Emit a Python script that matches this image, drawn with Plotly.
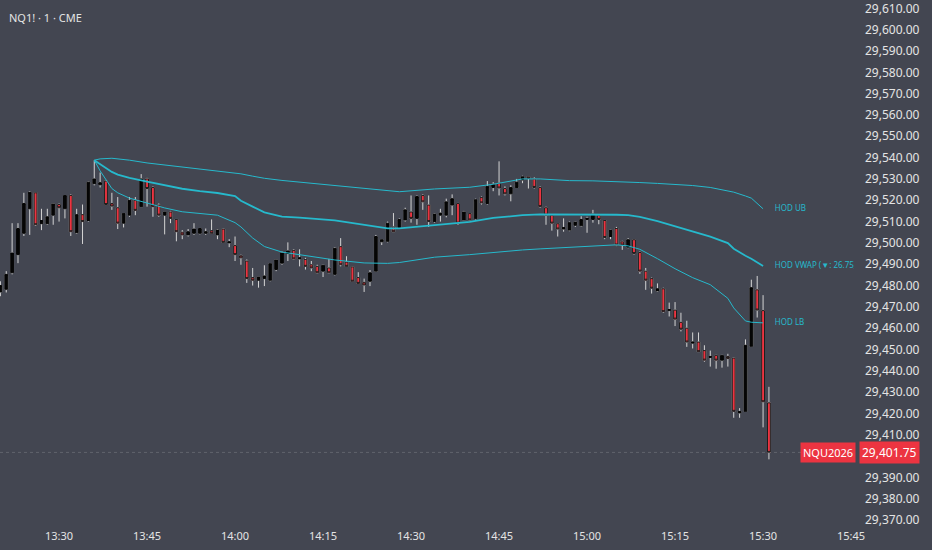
import numpy as np
import pandas as pd
import plotly.graph_objects as go

# 1-minute NQ candles, 13:20 -> 15:31
start_time = "2025-07-18 13:20"
opens = [29477.0, 29478.25, 29486.0, 29494.5, 29504.5, 29516.0, 29523.5, 29509.0, 29509.0, 29513.0,
         29518.0, 29516.0, 29522.25, 29504.75, 29513.25, 29510.5, 29527.75, 29527.25, 29529.0, 29518.5,
         29516.5, 29509.25, 29513.0, 29520.0, 29517.0, 29530.0, 29526.0, 29517.75, 29513.0, 29514.5,
         29511.0, 29505.0, 29503.75, 29504.5, 29504.5, 29504.5, 29505.75, 29503.75, 29506.5, 29500.0,
         29498.75, 29494.0, 29491.5, 29483.75, 29482.5, 29483.25, 29482.5, 29487.5, 29490.5, 29495.0,
         29496.5, 29492.5, 29492.25, 29489.75, 29489.0, 29486.75, 29488.25, 29485.25, 29498.25, 29491.0,
         29488.75, 29483.75, 29481.5, 29482.0, 29486.75, 29500.5, 29500.75, 29507.5, 29507.25, 29510.75,
         29514.5, 29511.5, 29522.25, 29517.75, 29510.0, 29513.0, 29513.0, 29517.75, 29518.5, 29510.75,
         29513.75, 29511.5, 29521.25, 29518.5, 29526.0, 29528.0, 29525.5, 29523.0, 29526.0, 29529.5,
         29531.0, 29530.0, 29526.0, 29516.5, 29513.0, 29509.0, 29506.5, 29506.0, 29508.25, 29508.0,
         29511.0, 29511.0, 29513.0, 29510.5, 29503.0, 29506.75, 29500.5, 29498.0, 29501.5, 29495.5,
         29486.75, 29483.25, 29477.5, 29478.5, 29468.25, 29468.5, 29462.75, 29460.0, 29453.0, 29453.5,
         29449.5, 29446.25, 29447.25, 29445.0, 29446.75, 29446.0, 29420.25, 29421.0, 29451.5, 29478.0,
         29468.25, 29425.0]
highs = [29482.0, 29486.75, 29509.25, 29509.25, 29523.5, 29524.25, 29523.75, 29516.0, 29516.0, 29518.5,
         29518.5, 29522.25, 29522.75, 29516.0, 29518.0, 29528.75, 29538.75, 29533.0, 29529.25, 29523.5,
         29521.5, 29514.0, 29521.5, 29521.5, 29532.25, 29530.5, 29526.5, 29518.5, 29514.5, 29515.0,
         29511.0, 29506.0, 29506.5, 29509.25, 29507.0, 29506.75, 29511.0, 29506.5, 29506.75, 29501.75,
         29503.0, 29494.5, 29492.25, 29488.25, 29484.0, 29489.5, 29490.5, 29492.25, 29496.0, 29500.25,
         29497.0, 29497.0, 29493.0, 29491.5, 29489.75, 29489.75, 29492.5, 29498.0, 29502.25, 29493.75,
         29489.0, 29486.25, 29483.25, 29487.25, 29503.75, 29501.75, 29510.0, 29514.0, 29511.5, 29516.5,
         29522.25, 29522.25, 29522.75, 29522.25, 29513.75, 29516.0, 29520.75, 29522.75, 29518.75, 29515.0,
         29514.0, 29520.75, 29521.75, 29529.0, 29528.5, 29538.25, 29526.5, 29527.0, 29530.0, 29531.5,
         29531.25, 29530.75, 29526.5, 29517.0, 29513.5, 29509.25, 29511.5, 29510.0, 29510.0, 29512.5,
         29512.25, 29515.5, 29513.5, 29510.75, 29506.25, 29507.5, 29501.0, 29502.25, 29501.75, 29496.0,
         29488.25, 29483.75, 29481.0, 29479.0, 29472.0, 29472.25, 29467.25, 29463.5, 29458.0, 29458.0,
         29452.0, 29449.5, 29447.5, 29447.5, 29448.0, 29446.25, 29422.5, 29454.75, 29482.75, 29484.5,
         29475.5, 29432.5]
lows = [29475.0, 29476.75, 29485.25, 29490.5, 29503.25, 29503.75, 29508.0, 29506.0, 29508.5, 29508.5,
        29510.0, 29511.5, 29503.25, 29504.25, 29499.5, 29510.0, 29527.0, 29526.0, 29517.75, 29515.5,
        29506.5, 29507.25, 29512.25, 29513.0, 29517.0, 29517.0, 29512.25, 29512.25, 29504.0, 29509.25,
        29500.75, 29501.75, 29503.0, 29503.75, 29504.0, 29503.75, 29504.5, 29501.75, 29500.0, 29498.0,
        29491.5, 29489.75, 29481.25, 29480.0, 29479.0, 29479.75, 29482.0, 29486.75, 29489.75, 29491.5,
        29492.25, 29489.0, 29487.5, 29486.75, 29485.75, 29484.0, 29485.75, 29484.75, 29489.0, 29489.0,
        29481.75, 29481.0, 29477.0, 29479.75, 29486.5, 29499.0, 29500.25, 29505.25, 29507.0, 29510.0,
        29509.5, 29508.5, 29515.5, 29507.5, 29509.5, 29510.0, 29512.0, 29513.0, 29508.5, 29510.5,
        29510.5, 29511.0, 29518.0, 29518.0, 29524.25, 29522.25, 29522.25, 29519.5, 29525.75, 29528.0,
        29525.5, 29525.5, 29516.5, 29508.5, 29505.75, 29503.0, 29505.25, 29505.5, 29507.5, 29507.5,
        29504.75, 29509.5, 29508.75, 29501.75, 29501.75, 29498.5, 29496.75, 29497.5, 29494.5, 29485.5,
        29478.0, 29476.25, 29477.0, 29467.25, 29465.5, 29461.0, 29458.5, 29451.25, 29450.5, 29449.0,
        29444.25, 29442.0, 29441.0, 29441.5, 29442.0, 29418.0, 29418.0, 29420.75, 29451.25, 29465.0,
        29413.5, 29398.5]
closes = [29480.0, 29485.25, 29495.25, 29506.75, 29518.5, 29523.75, 29508.5, 29510.5, 29512.25, 29518.25,
          29516.5, 29522.25, 29505.25, 29513.25, 29510.0, 29528.5, 29530.0, 29528.25, 29518.0, 29517.25,
          29509.25, 29513.75, 29520.0, 29515.25, 29530.0, 29525.5, 29517.0, 29513.0, 29514.5, 29511.5,
          29505.25, 29503.75, 29505.25, 29506.5, 29506.75, 29505.25, 29504.5, 29506.0, 29500.25, 29500.5,
          29494.5, 29493.0, 29483.25, 29482.5, 29484.0, 29484.5, 29490.25, 29492.0, 29495.25, 29496.25,
          29492.5, 29493.0, 29489.0, 29488.25, 29486.0, 29489.5, 29486.0, 29497.5, 29489.75, 29489.0,
          29482.0, 29481.0, 29480.25, 29486.0, 29503.0, 29501.5, 29509.25, 29505.25, 29511.0, 29515.5,
          29511.5, 29521.75, 29519.25, 29510.0, 29513.5, 29514.0, 29519.25, 29520.75, 29509.25, 29514.5,
          29510.75, 29520.25, 29518.75, 29526.5, 29527.5, 29525.75, 29523.0, 29526.0, 29528.5, 29531.0,
          29530.25, 29526.0, 29517.0, 29513.0, 29509.25, 29506.5, 29507.25, 29509.5, 29509.75, 29511.0,
          29511.5, 29513.5, 29511.0, 29502.5, 29506.0, 29499.0, 29499.0, 29501.5, 29495.0, 29486.75,
          29482.5, 29478.75, 29478.5, 29467.75, 29468.75, 29464.25, 29459.5, 29453.5, 29453.5, 29449.0,
          29445.0, 29446.75, 29445.0, 29447.25, 29445.75, 29421.0, 29421.0, 29452.0, 29479.0, 29468.5,
          29425.5, 29401.75]

# anchored VWAP from the high of day, read at these minutes after 13:30
band_minutes = [6, 7, 9, 10, 12, 15, 18, 21, 24, 27, 30, 31, 33, 35, 38, 41, 47, 52, 56, 58,
                64, 70, 74, 76, 79, 82, 87, 91, 95, 97, 99, 102, 105, 108, 111, 114, 115, 117, 118, 120]
hod_ub = [29538.8, 29539.4, 29539.7, 29539.4, 29538.8, 29537.5, 29536.6, 29535.7, 29534.6, 29533.8,
          29533.0, 29532.4, 29531.3, 29530.3, 29529.3, 29528.5, 29526.8, 29525.5, 29524.5, 29524.0,
          29525.3, 29526.1, 29527.5, 29528.6, 29530.0, 29530.0, 29529.2, 29529.1, 29528.8, 29528.5,
          29528.3, 29527.9, 29527.4, 29526.9, 29526.0, 29524.6, 29523.8, 29522.0, 29521.0, 29516.0]
hod_vwap = [29538.8, 29536.9, 29533.3, 29532.0, 29530.5, 29528.7, 29527.1, 29525.4, 29524.3, 29523.4,
            29522.0, 29519.8, 29517.0, 29514.3, 29512.3, 29511.9, 29510.6, 29508.5, 29506.8, 29506.8,
            29508.2, 29509.9, 29511.7, 29512.3, 29513.0, 29513.4, 29513.4, 29513.4, 29513.2, 29513.0,
            29512.2, 29510.2, 29507.8, 29505.4, 29502.9, 29499.9, 29497.3, 29494.0, 29492.6, 29489.2]
hod_lb = [29538.8, 29533.8, 29525.5, 29523.5, 29521.0, 29518.8, 29516.4, 29514.6, 29513.8, 29513.0,
          29509.5, 29507.5, 29502.3, 29498.3, 29495.7, 29494.5, 29492.0, 29490.6, 29490.4, 29490.8,
          29493.3, 29494.5, 29495.5, 29496.1, 29496.7, 29497.2, 29498.0, 29498.6, 29499.1, 29498.6,
          29497.0, 29492.6, 29487.9, 29483.7, 29480.4, 29474.0, 29469.5, 29463.4, 29462.8, 29462.5]
band_labels = ["HOD UB", "HOD VWAP (▼: 26.75)", "HOD LB"]

x_ticks = ["13:30", "13:45", "14:00", "14:15", "14:30", "14:45", "15:00", "15:15", "15:30", "15:45"]
# 29,400 sits under the last-price tag, so it is not listed
y_ticks = [29370, 29380, 29390, 29410, 29420, 29430, 29440, 29450, 29460, 29470, 29480, 29490,
           29500, 29510, 29520, 29530, 29540, 29550, 29560, 29570, 29580, 29590, 29600, 29610]
last_price = 29401.75
symbol = "NQU2026"

BG = "#434651"
TXT = "#e4e4e4"
CYAN = "#26b9cc"
RED = "#ec3441"
FONT = "Noto Sans"

times = pd.date_range(start_time, periods=len(opens), freq="min")
day = times[0].strftime("%Y-%m-%d")
band_times = pd.Timestamp(day + " 13:30") + pd.to_timedelta(band_minutes, unit="min")
label_time = pd.Timestamp(day + " 13:30") + pd.Timedelta(minutes=122)

o = np.array(opens)
c = np.array(closes)

fig = go.Figure()

# VWAP bands
for vals, w in [(hod_ub, 1), (hod_vwap, 1.8), (hod_lb, 1)]:
    fig.add_trace(go.Scatter(x=band_times, y=vals, mode="lines",
                             line=dict(color=CYAN, width=w), hoverinfo="skip"))

# wicks (full range, light grey)
fig.add_trace(go.Candlestick(
    x=times, open=opens, high=highs, low=lows, close=closes,
    increasing=dict(line=dict(color="#d4d4d4", width=1), fillcolor="#d4d4d4"),
    decreasing=dict(line=dict(color="#d4d4d4", width=1), fillcolor="#d4d4d4"),
    whiskerwidth=0, hoverinfo="skip"))

# bodies on top
fig.add_trace(go.Candlestick(
    x=times, open=opens, high=np.maximum(o, c), low=np.minimum(o, c), close=closes,
    increasing=dict(line=dict(color="#050505", width=1), fillcolor="#050505"),
    decreasing=dict(line=dict(color="#1e1e1e", width=1), fillcolor=RED),
    whiskerwidth=0))

# band labels, clipped at the pane edge like the original
fig.add_trace(go.Scatter(
    x=[label_time] * 3, y=[hod_ub[-1], hod_vwap[-1], hod_lb[-1]],
    mode="text", text=band_labels, textposition="middle right",
    textfont=dict(color=CYAN, size=8, family=FONT), cliponaxis=True, hoverinfo="skip"))

# faint last price line
fig.add_hline(y=last_price, line=dict(color="rgba(200,200,200,0.22)", width=1, dash="dot"))

fig.add_annotation(x=1, xref="paper", xanchor="right", xshift=2, y=last_price, yref="y",
                   text=symbol, showarrow=False, bgcolor=RED, borderpad=2,
                   font=dict(color="white", size=11, family=FONT))
fig.add_annotation(x=1, xref="paper", xanchor="left", xshift=5, y=last_price, yref="y",
                   text=f"{last_price:,.2f}", showarrow=False, bgcolor=RED, borderpad=2,
                   font=dict(color="white", size=12, family=FONT))
fig.add_annotation(x=0, xref="paper", xanchor="left", xshift=7, y=1, yref="paper",
                   yanchor="top", yshift=-2, text="NQ1! · 1 · CME", showarrow=False,
                   font=dict(color=TXT, size=11, family=FONT))

fig.update_layout(
    width=932, height=550,
    paper_bgcolor=BG, plot_bgcolor=BG,
    margin=dict(l=0, r=78, t=0, b=22),
    showlegend=False,
    font=dict(family=FONT, color=TXT),
    xaxis=dict(
        type="date", rangeslider=dict(visible=False),
        range=[pd.Timestamp(day + " 13:19:56"), pd.Timestamp(day + " 15:45:30")],
        tickvals=[pd.Timestamp(day + " " + t) for t in x_ticks], ticktext=x_ticks,
        showgrid=False, zeroline=False, showline=False, ticks="",
        tickfont=dict(size=11, color=TXT)),
    yaxis=dict(
        side="right", range=[29366.3, 29611.1],
        tickvals=y_ticks, ticktext=[f"{v:,.2f}" for v in y_ticks],
        showgrid=False, zeroline=False, showline=False, ticks="",
        ticklabelstandoff=10, ticklabeloverflow="allow",
        tickfont=dict(size=12, color=TXT)),
)

# drop the page's default body margin so the chart sits at the window's corner
fig.write_html("out.html", config={"displayModeBar": False},
               post_script="document.body.style.margin='0';")
